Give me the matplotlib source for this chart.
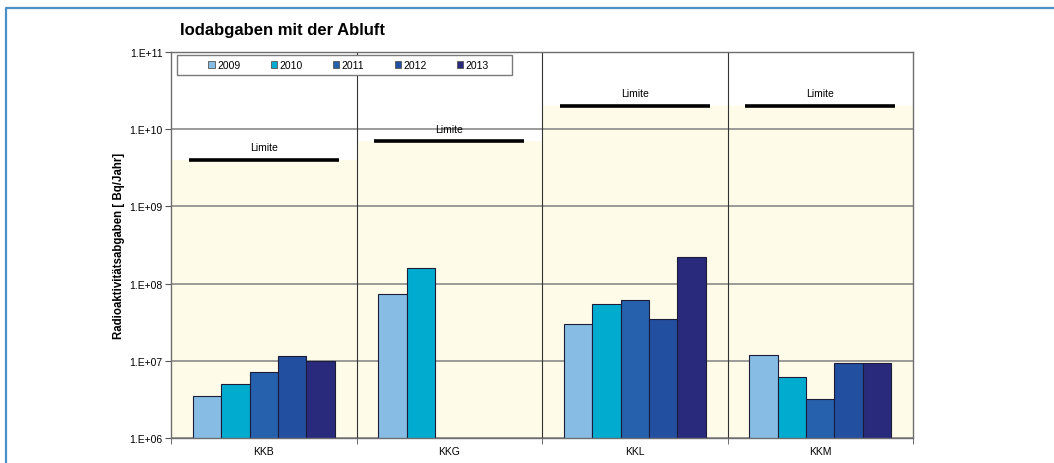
import matplotlib
matplotlib.use("Agg")
import matplotlib.pyplot as plt
import numpy as np
from matplotlib.lines import Line2D
from matplotlib.patches import Rectangle, Patch
from matplotlib.ticker import FixedLocator, FuncFormatter

plt.rcParams['font.family'] = ['Liberation Sans', 'DejaVu Sans']

#-----DATA-----#
plants = ['KKB', 'KKG', 'KKL', 'KKM']
years = ['2009', '2010', '2011', '2012', '2013']
# Bq/Jahr, one list per year (nan = no release reported)
iod_2009 = [3.5e6, 7.3e7, 3.0e7, 1.2e7]
iod_2010 = [5.0e6, 1.58e8, 5.5e7, 6.1e6]
iod_2011 = [7.1e6, np.nan, 6.1e7, 3.2e6]
iod_2012 = [1.15e7, np.nan, 3.5e7, 9.3e6]
iod_2013 = [1.0e7, np.nan, 2.2e8, 9.3e6]
limits = [4.0e9, 7.0e9, 2.0e10, 2.0e10]

series = [iod_2009, iod_2010, iod_2011, iod_2012, iod_2013]
colors = ['#87bde5', '#00abd0', '#2561ad', '#234fa0', '#2a2a7c']

#-----FIGURE-----#
W, H = 1054, 464
fig = plt.figure(figsize=(W / 100, H / 100), dpi=100)
ax = fig.add_axes([171 / W, 1 - 439 / H, (913 - 171) / W, (439 - 53) / H])

ax.set_yscale('log')
ax.set_ylim(1e6, 1e11)
ax.set_xlim(-0.5, len(plants) - 0.5)

x = np.arange(len(plants))
bw = 0.153

# light background up to each plant's limit
ax.bar(x, np.array(limits) - 1e6, bottom=1e6, width=1.0, color='#fefbe8',
       edgecolor='none', zorder=0.2)

for i, (vals, c) in enumerate(zip(series, colors)):
    ax.bar(x + (i - 2) * bw, vals, width=bw, color=c, edgecolor='#1b1b3a',
           linewidth=0.8, label=years[i], zorder=2)

# limit lines with labels
for xi, lim in zip(x, limits):
    ax.hlines(lim, xi - 0.405, xi + 0.405, color='black', linewidth=2.6, zorder=3)
    ax.annotate('Limite', (xi, lim), xytext=(0, 9), textcoords='offset points',
                ha='center', va='center', fontsize=7.5, zorder=3)

# separators between plants
for xs in x[:-1] + 0.5:
    ax.axvline(xs, color='#333333', linewidth=0.8, zorder=1)

ax.yaxis.grid(True, color='#8a8a8a', linewidth=1.2)
ax.set_axisbelow(True)
ax.yaxis.set_major_locator(FixedLocator([1e6, 1e7, 1e8, 1e9, 1e10, 1e11]))
ax.yaxis.set_minor_locator(FixedLocator([]))
ax.yaxis.set_major_formatter(FuncFormatter(
    lambda v, p: '1.E+%02d' % int(round(np.log10(v)))))

ax.set_xticks(x)
ax.set_xticklabels(plants)
ax.set_xticks(np.arange(len(plants) + 1) - 0.5, minor=True)
ax.tick_params(axis='x', which='major', length=0, pad=6, labelsize=7.5)
ax.tick_params(axis='x', which='minor', length=4, color='#555555')
ax.tick_params(axis='y', length=4, color='#555555', labelsize=7.5, pad=2)

for s in ax.spines.values():
    s.set_color('#6e6e6e')
    s.set_linewidth(1.0)

# legend box across the top
bx0, bx1, by0, by1 = 177, 512, 56, 76
ax.add_patch(Rectangle((bx0 / W, 1 - by1 / H), (bx1 - bx0) / W, (by1 - by0) / H,
                       transform=fig.transFigure, facecolor='white',
                       edgecolor='#7a7a7a', linewidth=1.0, zorder=5, clip_on=False))
handles = [Patch(facecolor=c, edgecolor='#555555', linewidth=0.6) for c in colors]
leg = ax.legend(handles, years, ncol=5, loc='center',
                bbox_to_anchor=((bx0 + bx1) / 2 / W + 0.004, 1 - (by0 + by1) / 2 / H),
                bbox_transform=fig.transFigure, frameon=False, fontsize=7.5,
                handlelength=0.6, handleheight=0.6, handletextpad=0.25,
                columnspacing=2.9, borderpad=0)
leg.set_zorder(6)

fig.text(180 / W, 1 - 31 / H, 'Iodabgaben mit der Abluft', fontsize=12,
         fontweight='bold', va='center', ha='left')
fig.text(119 / W, 1 - 246 / H, 'Radioaktivitätsabgaben [ Bq/Jahr]', fontsize=8.3,
         fontweight='bold', rotation=90, va='center', ha='center')

# outer frame
fy = 1 - 9 / H
fx = 6 / W
fig.add_artist(Line2D([fx, fx, 1.0], [0.0, fy, fy], transform=fig.transFigure,
                      color='#4a8fc8', linewidth=1.6))

fig.savefig('out.png', dpi=100)
